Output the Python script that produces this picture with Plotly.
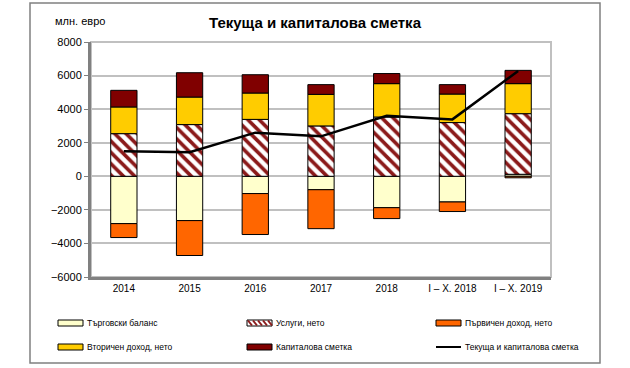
import plotly.graph_objects as go

categories = ["2014", "2015", "2016", "2017", "2018", "I – X. 2018", "I – X. 2019"]
trade = [-2820, -2640, -1030, -800, -1870, -1530, 120]
services = [2540, 3080, 3390, 3000, 3530, 3200, 3610]
primary = [-830, -2080, -2440, -2320, -650, -570, -90]
secondary = [1590, 1640, 1570, 1880, 1990, 1700, 1790]
capital = [990, 1450, 1090, 580, 600, 560, 790]
total = [1490, 1430, 2600, 2380, 3610, 3390, 6270]
y_ticks = [-6000, -4000, -2000, 0, 2000, 4000, 6000, 8000]

names = ["Търговски баланс", "Услуги, нето", "Първичен доход, нето",
         "Вторичен доход, нето", "Капиталова сметка", "Текуща и капиталова сметка"]
colors = ["#FFFFCC", "#FFFFFF", "#FF6600", "#FFCC00", "#800000", "#000000"]
HATCH = "#8B1A1A"

W, H = 630, 368
L, R, T, B = 91, 551, 42, 277
FONT = "Arial, Liberation Sans, sans-serif"

fig = go.Figure()
line_style = dict(color="black", width=1)
fig.add_bar(x=categories, y=trade, name=names[0], width=0.4,
            marker=dict(color=colors[0], line=line_style))
fig.add_bar(x=categories, y=services, name=names[1], width=0.4,
            marker=dict(color="white", line=line_style,
                        pattern=dict(shape="\\", fgcolor=HATCH, bgcolor="white",
                                     size=8, solidity=0.45, fillmode="replace")))
fig.add_bar(x=categories, y=primary, name=names[2], width=0.4,
            marker=dict(color=colors[2], line=line_style))
fig.add_bar(x=categories, y=secondary, name=names[3], width=0.4,
            marker=dict(color=colors[3], line=line_style))
fig.add_bar(x=categories, y=capital, name=names[4], width=0.4,
            marker=dict(color=colors[4], line=line_style))
fig.add_scatter(x=categories, y=total, name=names[5], mode="lines",
                line=dict(color="black", width=2.5))


def px2x(px):
    return (px - L) / (R - L)


def py2y(py):
    return (B - py) / (B - T)


shapes = []
annotations = []
# outer frame
shapes.append(dict(type="rect", xref="paper", yref="paper",
                   x0=px2x(30), x1=px2x(600), y0=py2y(363), y1=py2y(3),
                   line=dict(color="#808080", width=1.5), layer="below"))
# plot border
shapes.append(dict(type="rect", xref="paper", yref="paper",
                   x0=0, x1=1, y0=0, y1=1,
                   line=dict(color="#C0C0C0", width=2), layer="below"))

# legend
cols = [58, 247, 436]
rows = [323, 347]
for i, name in enumerate(names):
    cx = cols[i % 3]
    cy = rows[i // 3]
    x0, x1 = px2x(cx), px2x(cx + 25)
    if i == 5:
        shapes.append(dict(type="line", xref="paper", yref="paper",
                           x0=x0, x1=x1, y0=py2y(cy), y1=py2y(cy),
                           line=dict(color="black", width=2)))
    else:
        shapes.append(dict(type="rect", xref="paper", yref="paper",
                           x0=x0, x1=x1, y0=py2y(cy + 3), y1=py2y(cy - 3),
                           fillcolor=colors[i], line=dict(color="black", width=1)))
        if i == 1:
            for k in range(0, 22, 5):
                shapes.append(dict(type="line", xref="paper", yref="paper",
                                   x0=px2x(cx + k + 1), x1=px2x(cx + k + 5),
                                   y0=py2y(cy - 2.5), y1=py2y(cy + 2.5),
                                   line=dict(color=HATCH, width=2)))
    annotations.append(dict(xref="paper", yref="paper", x=px2x(cx + 27), y=py2y(cy),
                            text=name, showarrow=False, xanchor="left", yanchor="middle",
                            font=dict(family=FONT, size=8.5, color="black")))

annotations.append(dict(xref="paper", yref="paper", x=px2x(315), y=py2y(22),
                        text="<b>Текуща и капиталова сметка</b>", showarrow=False,
                        xanchor="center", yanchor="middle",
                        font=dict(family=FONT, size=15, color="black")))
annotations.append(dict(xref="paper", yref="paper", x=px2x(53), y=py2y(21),
                        text="млн. евро", showarrow=False,
                        xanchor="left", yanchor="middle",
                        font=dict(family=FONT, size=11, color="black")))

fig.update_layout(
    width=W, height=H,
    margin=dict(l=L, r=W - R, t=T, b=H - B, pad=0),
    paper_bgcolor="white", plot_bgcolor="white",
    barmode="relative", bargap=0.6,
    showlegend=False,
    shapes=shapes, annotations=annotations,
    font=dict(family=FONT, size=11, color="black"),
)
fig.update_yaxes(range=[-6000, 8000], tickvals=y_ticks, showgrid=True,
                 gridcolor="#C0C0C0", gridwidth=2, zeroline=False,
                 showline=True, linecolor="#808080", linewidth=3,
                 ticks="outside", ticklen=4, tickcolor="#808080",
                 tickfont=dict(family=FONT, size=11), fixedrange=True)
fig.update_xaxes(showgrid=False, showline=True, linecolor="#808080", linewidth=3,
                 ticks="", tickfont=dict(family=FONT, size=10), fixedrange=True)

fig.write_html("out.html", config={"displayModeBar": False},
               post_script="document.body.style.margin='0';document.body.style.overflow='hidden';")
